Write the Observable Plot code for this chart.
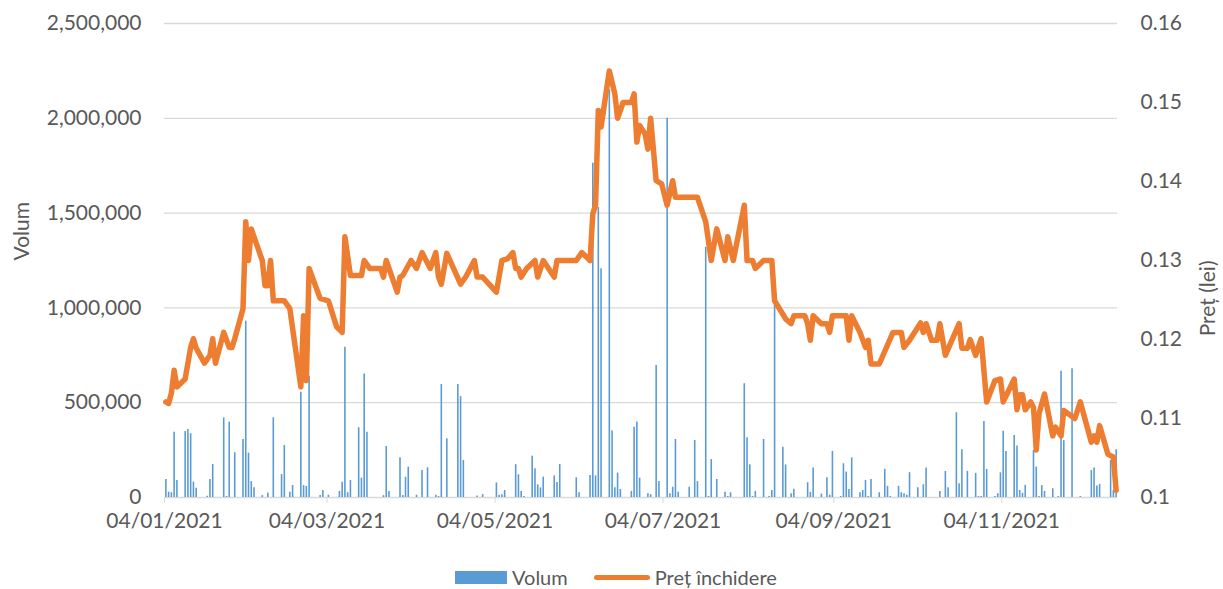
<!DOCTYPE html>
<html><head><meta charset="utf-8">
<script src="https://cdn.jsdelivr.net/npm/d3@7"></script>
<script src="https://cdn.jsdelivr.net/npm/@observablehq/plot@0.6"></script>
<style>
body{margin:0;background:#fff;font-family:Lato,sans-serif;overflow:hidden;}
#legend{position:absolute;left:455px;top:566px;height:22px;line-height:22px;display:flex;align-items:center;font-size:20px;color:#595959;font-family:Lato,sans-serif;}
.swb{display:inline-block;width:52px;height:13px;background:#5b9bd5;margin-right:5px;}
.swl{display:inline-block;width:56px;height:5px;border-radius:3px;background:#ed7d31;margin-right:5px;margin-left:26px;}
</style></head><body>
<div id="chart"></div>
<div id="legend"><span class="swb"></span><span>Volum</span><span class="swl"></span><span>Preț închidere</span></div>
<script>
const year = 2021;
const volDates = ["01-04","01-05","01-06","01-07","01-08","01-11","01-12","01-13","01-14","01-15","01-19","01-20","01-21","01-25","01-26","01-27","01-29","02-01","02-02","02-03","02-04","02-05","02-08","02-10","02-12","02-15","02-16","02-18","02-19","02-22","02-23","02-24","02-25","03-01","03-02","03-04","03-08","03-09","03-10","03-11","03-12","03-15","03-16","03-17","03-18","03-24","03-25","03-26","03-30","03-31","04-01","04-02","04-05","04-07","04-09","04-12","04-13","04-14","04-16","04-20","04-21","04-22","04-27","04-29","05-04","05-05","05-06","05-07","05-11","05-12","05-13","05-14","05-17","05-18","05-19","05-20","05-21","05-25","05-26","05-27","06-02","06-03","06-07","06-08","06-09","06-10","06-11","06-14","06-15","06-16","06-17","06-18","06-22","06-23","06-24","06-25","06-28","06-29","07-01","07-02","07-05","07-06","07-07","07-08","07-09","07-13","07-15","07-16","07-19","07-20","07-21","07-23","07-26","07-27","07-28","08-02","08-03","08-04","08-05","08-06","08-09","08-11","08-12","08-13","08-16","08-17","08-19","08-20","08-25","08-26","08-27","08-30","09-01","09-02","09-03","09-06","09-07","09-08","09-09","09-10","09-13","09-14","09-15","09-16","09-17","09-20","09-22","09-23","09-24","09-27","09-28","09-29","09-30","10-01","10-04","10-06","10-07","10-12","10-14","10-15","10-18","10-19","10-20","10-22","10-25","10-26","10-27","10-28","10-29","11-01","11-02","11-03","11-04","11-05","11-08","11-09","11-10","11-11","11-12","11-15","11-16","11-17","11-18","11-19","11-22","11-24","11-25","11-26","11-29","12-02","12-06","12-07","12-08","12-09","12-13","12-14","12-15"];
const volValues = [95000,28000,25000,344000,90000,348000,359000,336000,81000,49000,
7000,95000,174000,420000,5000,397000,236000,306000,930000,234000,
84000,51000,10000,23000,420000,121000,274000,28000,63000,555000,
63000,58000,640000,10000,37000,12000,32000,80000,793000,25000,
90000,368000,102000,652000,344000,10000,269000,32000,209000,10000,
107000,160000,12000,142000,157000,12000,5000,596000,310000,596000,
532000,195000,8000,15000,77000,12000,15000,37000,173000,120000,
32000,5000,218000,151000,67000,51000,107000,114000,79000,174000,
104000,25000,116000,1763000,114000,1530000,1206000,2150000,351000,51000,
129000,42000,32000,371000,398000,102000,20000,15000,696000,84000,
2000000,20000,54000,306000,28000,54000,301000,84000,1320000,5000,
200000,95000,28000,5000,25000,600000,315000,172000,5000,32000,
306000,5000,37000,1022000,265000,172000,20000,44000,78000,27000,
155000,18000,104000,12000,243000,5000,178000,134000,42000,209000,
25000,37000,90000,5000,95000,25000,149000,59000,5000,59000,
25000,20000,12000,131000,51000,67000,155000,31000,137000,51000,
447000,72000,252000,138000,127000,5000,5000,401000,148000,5000,
20000,130000,349000,243000,327000,271000,37000,22000,64000,248000,
160000,5000,63000,32000,46000,5000,666000,300000,679000,5000,
142000,155000,60000,69000,195000,37000,252000];
const priceDates = ["01-04","01-05","01-06","01-07","01-08","01-11","01-13","01-14","01-15","01-18",
"01-20","01-21","01-22","01-25","01-27","01-28","01-29","02-01","02-02","02-03",
"02-04","02-08","02-09","02-10","02-11","02-12","02-16","02-18","02-22","02-23",
"02-24","02-25","03-01","03-04","03-07","03-09","03-10","03-12","03-16","03-17",
"03-19","03-23","03-24","03-25","03-29","03-30","03-31","04-03","04-05","04-07",
"04-10","04-12","04-13","04-14","04-16","04-21","04-23","04-26","04-27","04-29",
"05-04","05-06","05-08","05-10","05-11","05-12","05-13","05-15","05-18","05-19",
"05-21","05-25","05-26","06-02","06-04","06-07","06-08","06-09","06-10","06-11",
"06-14","06-16","06-17","06-19","06-22","06-23","06-24","06-25","06-27","06-28",
"06-29","07-01","07-03","07-05","07-07","07-08","07-16","07-19","07-21","07-23",
"07-26","07-27","07-29","08-02","08-03","08-05","08-06","08-09","08-12","08-13",
"08-16","08-17","08-19","08-20","08-24","08-25","08-26","08-27","08-30","09-01",
"09-02","09-03","09-08","09-09","09-10","09-13","09-15","09-16","09-17","09-20",
"09-25","09-28","09-29","10-01","10-05","10-06","10-07","10-09","10-11","10-12",
"10-14","10-19","10-20","10-22","10-23","10-25","10-27","10-29","11-01","11-03",
"11-04","11-08","11-09","11-10","11-11","11-12","11-14","11-15","11-16","11-17",
"11-19","11-22","11-23","11-25","11-26","11-30","12-02","12-06","12-07","12-08",
"12-09","12-12","12-14","12-15"];
const priceValues = [0.1121,0.1119,0.1132,0.1161,0.114,0.115,0.119,0.1201,0.1189,0.117,
0.118,0.1201,0.117,0.1209,0.119,0.119,0.1201,0.1239,0.1349,0.130,
0.134,0.130,0.1268,0.1268,0.130,0.1249,0.1249,0.1239,0.114,0.123,
0.1148,0.129,0.1252,0.1249,0.1216,0.1209,0.133,0.1281,0.1281,0.130,
0.129,0.129,0.1279,0.130,0.126,0.1279,0.1281,0.130,0.129,0.131,
0.129,0.131,0.1279,0.127,0.1309,0.127,0.128,0.130,0.1279,0.1279,
0.126,0.130,0.1302,0.131,0.129,0.129,0.1279,0.129,0.130,0.1279,
0.130,0.1279,0.130,0.130,0.131,0.130,0.1359,0.137,0.149,0.1469,
0.154,0.1511,0.148,0.150,0.150,0.1511,0.145,0.1471,0.146,0.1441,
0.148,0.1401,0.1397,0.137,0.1401,0.138,0.138,0.1349,0.130,0.134,
0.130,0.133,0.130,0.137,0.130,0.130,0.129,0.130,0.130,0.1249,
0.1232,0.1226,0.122,0.123,0.123,0.122,0.1199,0.123,0.122,0.122,
0.1209,0.123,0.123,0.1199,0.123,0.1209,0.119,0.1199,0.1169,0.1169,
0.1209,0.1209,0.119,0.1199,0.1221,0.1209,0.122,0.1199,0.1199,0.122,
0.118,0.122,0.1189,0.1189,0.120,0.118,0.1201,0.1121,0.1148,0.115,
0.1121,0.115,0.1111,0.113,0.113,0.1111,0.1121,0.1114,0.106,0.1106,
0.1131,0.1078,0.1089,0.1078,0.111,0.110,0.1121,0.107,0.1078,0.107,
0.1091,0.1055,0.1051,0.1009];
const volTicks = [0, 500000, 1000000, 1500000, 2000000, 2500000];
const priceTicks = [0.10, 0.11, 0.12, 0.13, 0.14, 0.15, 0.16];
const priceTickLabels = ["0.1","0.11","0.12","0.13","0.14","0.15","0.16"];
const xTickLabels = ["2021-01-04","2021-03-04","2021-05-04","2021-07-04","2021-09-04","2021-11-04"];
const xStart = "2021-01-04", xEnd = "2021-12-16";

const volMax = 2500000, priceMin = 0.10, priceMax = 0.16;
const toV = p => (p - priceMin) / (priceMax - priceMin) * volMax;
const mid = s => new Date(Date.parse(`${year}-${s}T12:00:00Z`));
const volume = volDates.map((d, i) => ({date: mid(d), vol: volValues[i]}));
const price = priceDates.map((d, i) => ({date: mid(d), v: toV(priceValues[i])}));
const rightPos = priceTicks.map(toV);
const rightLabel = new Map(rightPos.map((v, i) => [v, priceTickLabels[i]]));

const H = 562;
const chart = Plot.plot({
  width: 1223, height: H,
  marginLeft: 164, marginRight: 106, marginTop: 23, marginBottom: H - 497,
  style: {fontFamily: "Lato", fontSize: "21px", color: "#595959", background: "#fff", overflow: "visible"},
  x: {type: "utc", domain: [new Date(xStart), new Date(xEnd)]},
  y: {domain: [0, volMax]},
  marks: [
    Plot.ruleY(volTicks, {stroke: "#d9d9d9", strokeWidth: 1.3}),
    Plot.ruleX(volume, {x: "date", y1: 0, y2: "vol", stroke: "#5b9bd5", strokeWidth: 1.6}),
    Plot.line(price, {x: "date", y: "v", stroke: "#ed7d31", strokeWidth: 5.5, strokeLinejoin: "round", strokeLinecap: "round"}),
    Plot.axisX(xTickLabels.map(d => new Date(d)), {tickFormat: d3.utcFormat("%d/%m/%Y"), tickSize: 6, tickPadding: 10, stroke: "#d9d9d9", fill: "#595959", label: null}),
    Plot.axisY(volTicks, {anchor: "left", tickSize: 0, tickPadding: 23, tickFormat: d3.format(","), fill: "#595959", label: null}),
    Plot.axisY(rightPos, {anchor: "right", tickSize: 0, tickPadding: 23, tickFormat: d => rightLabel.get(d), fill: "#595959", label: null}),
    Plot.text(["Volum"], {frameAnchor: "left", dx: -142, rotate: -90, fill: "#595959", fontSize: 21}),
    Plot.text(["Preț (lei)"], {frameAnchor: "right", dx: 91, dy: 0, rotate: -90, fill: "#595959", fontSize: 21})
  ]
});
document.getElementById("chart").append(chart);
</script></body></html>
